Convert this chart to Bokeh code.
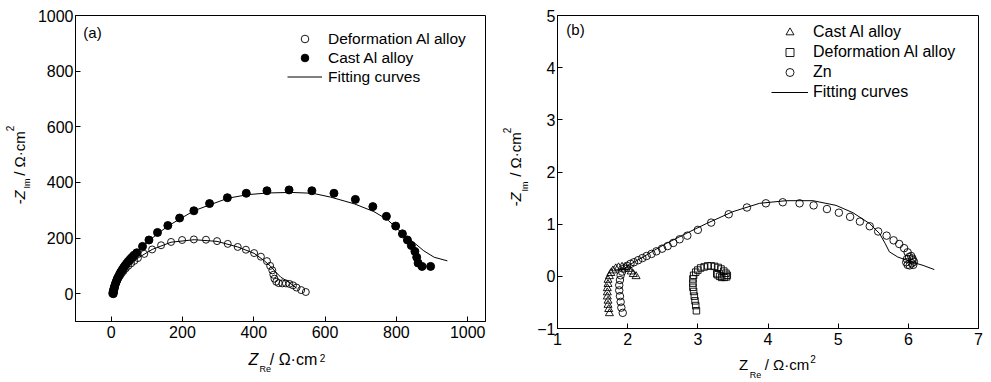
import numpy as np
from bokeh.plotting import figure
from bokeh.models import Range1d, Label, Legend, LegendItem, FixedTicker
from bokeh.layouts import row, column
from bokeh.embed import file_html
from bokeh.resources import INLINE

# ---------------- Panel (a) data ----------------
cast_a_x = [6, 6, 7, 8, 9, 10, 12, 14, 16, 18, 21, 24, 27, 31, 35, 39, 43, 48, 53, 58, 64,
            72, 88, 106, 130, 159, 192, 232, 276, 326, 379, 437, 499, 563, 625, 685, 734,
            772, 798, 817, 831, 842, 852, 857, 861, 872, 896]
cast_a_y = [0, 5, 10, 16, 22, 28, 35, 42, 49, 56, 63, 71, 78, 86, 94, 101, 108, 116, 123, 130, 138,
            147, 170, 193, 220, 245, 272, 298, 324, 345, 361, 370, 373, 370, 361, 339, 313,
            278, 243, 215, 193, 173, 152, 131, 110, 98, 98]

def_a_x = [3, 4, 5, 7, 9, 11, 14, 17, 21, 25, 30, 35, 41, 48, 56, 65,
           75, 93, 115, 140, 168, 199, 232, 266, 297, 327, 355, 378, 401, 420, 437,
           446, 452, 455, 458, 463, 470, 480, 490, 500, 510, 520, 533, 546]
def_a_y = [0, 6, 12, 19, 26, 33, 41, 49, 57, 65, 74, 82, 91, 100, 109, 118,
           128, 143, 159, 174, 186, 193, 195, 194, 189, 179, 168, 158, 146, 133, 117,
           100, 84, 68, 54, 43, 38, 37, 37, 35, 30, 22, 13, 6]

fit_cast_a_x = [5, 8, 15, 30, 50, 72, 105, 159, 232, 327, 383, 439, 504, 565, 616, 682, 737,
                775, 812, 850, 877, 906, 943]
fit_cast_a_y = [0, 20, 45, 80, 115, 146, 190, 243, 298, 343, 356, 362, 364, 361, 347, 323, 295,
                266, 222, 183, 154, 131, 118]

fit_def_a_x = [3, 10, 25, 45, 75, 115, 168, 233, 297, 355, 401, 428, 446, 460, 476, 499, 520]
fit_def_a_y = [0, 25, 62, 95, 128, 159, 185, 194, 188, 168, 145, 120, 100, 80, 59, 41, 20]

xticks_a = [0, 200, 400, 600, 800, 1000]
yticks_a = [0, 200, 400, 600, 800, 1000]

# ---------------- Panel (b) data ----------------
cast_b_x = [1.74, 1.73, 1.72, 1.72, 1.71, 1.71, 1.71, 1.72, 1.72, 1.74, 1.76, 1.79, 1.83, 1.87,
            1.92, 1.97, 2.01, 2.05, 2.08, 2.12]
cast_b_y = [-0.71, -0.63, -0.55, -0.47, -0.39, -0.31, -0.23, -0.15, -0.07, 0.00, 0.06, 0.11, 0.15,
            0.17, 0.18, 0.17, 0.14, 0.09, 0.04, 0.00]

def_b_x = [2.98, 2.97, 2.96, 2.95, 2.94, 2.93, 2.93, 2.93, 2.94, 2.97, 3.00, 3.04, 3.09, 3.14,
           3.19, 3.24, 3.29, 3.33, 3.37, 3.40, 3.42, 3.41, 3.38, 3.34, 3.31, 3.28, 3.27]
def_b_y = [-0.66, -0.56, -0.47, -0.38, -0.29, -0.21, -0.13, -0.05, 0.02, 0.08, 0.12, 0.16, 0.18,
           0.20, 0.20, 0.19, 0.17, 0.14, 0.10, 0.06, 0.02, -0.01, -0.02, -0.02, 0.00, 0.03, 0.05]

zn_b_x = [1.93, 1.91, 1.90, 1.89, 1.88, 1.88, 1.89, 1.90, 1.92, 1.95, 1.99, 2.04, 2.09, 2.15,
          2.21, 2.27, 2.34, 2.41, 2.49, 2.57, 2.65, 2.74, 2.85, 3.00, 3.19, 3.44, 3.70, 3.97,
          4.21, 4.45, 4.65, 4.84, 5.01, 5.17, 5.31, 5.45, 5.57, 5.69, 5.79, 5.87, 5.94, 5.99,
          6.04, 6.06, 6.05, 6.02, 5.99, 5.97, 5.98, 6.01, 6.06, 6.08, 6.07]
zn_b_y = [-0.70, -0.60, -0.49, -0.38, -0.27, -0.17, -0.07, 0.02, 0.09, 0.15, 0.20, 0.24, 0.27,
          0.31, 0.35, 0.39, 0.43, 0.48, 0.53, 0.58, 0.64, 0.71, 0.78, 0.89, 1.03, 1.19, 1.32,
          1.40, 1.42, 1.40, 1.36, 1.29, 1.22, 1.14, 1.05, 0.96, 0.86, 0.78, 0.69, 0.62, 0.54,
          0.46, 0.39, 0.31, 0.25, 0.21, 0.22, 0.27, 0.33, 0.37, 0.34, 0.28, 0.22]

fit_zn_b_x = [1.90, 1.98, 2.10, 2.22, 2.38, 2.55, 2.83, 3.12, 3.50, 3.88, 4.26, 4.64, 4.97,
              5.21, 5.45, 5.59, 5.67, 5.73, 5.85, 6.06, 6.21, 6.37]
fit_zn_b_y = [0.10, 0.18, 0.28, 0.37, 0.50, 0.63, 0.82, 1.01, 1.24, 1.40, 1.45, 1.45, 1.36,
              1.22, 1.01, 0.82, 0.63, 0.47, 0.37, 0.27, 0.21, 0.13]

xticks_b = [1, 2, 3, 4, 5, 6, 7]
yticks_b = [-1, 0, 1, 2, 3, 4, 5]

FONT = "Liberation Sans"
TOP_H = 350          # height of the row holding the two plots
BOT_H = 382 - TOP_H  # height of the row holding the x-axis titles
ROT_FIX = 29         # rendering offset observed for rotated labels


def style_axes(p, xticks, yticks, xstand, ystand):
    p.xgrid.grid_line_color = None
    p.ygrid.grid_line_color = None
    p.outline_line_color = "black"
    p.outline_line_width = 1
    p.xaxis.ticker = FixedTicker(ticks=xticks)
    p.yaxis.ticker = FixedTicker(ticks=yticks)
    for ax in p.xaxis + p.yaxis:
        ax.major_tick_in = 5
        ax.major_tick_out = 0
        ax.minor_tick_line_color = None
        ax.axis_line_color = "black"
        ax.major_tick_line_color = "black"
        ax.major_label_text_font = FONT
        ax.major_label_text_font_size = "16px"
        ax.major_label_text_color = "black"
    p.xaxis.major_label_standoff = xstand
    p.yaxis.major_label_standoff = ystand


def text_fig(w, h):
    f = figure(width=w, height=h, x_range=Range1d(0, 1), y_range=Range1d(0, 1),
               output_backend="svg", toolbar_location=None,
               x_axis_location=None, y_axis_location=None,
               min_border_left=0, min_border_right=0, min_border_top=0, min_border_bottom=0,
               background_fill_color="white", border_fill_color="white")
    f.xgrid.grid_line_color = None
    f.ygrid.grid_line_color = None
    f.outline_line_color = None
    return f


def add_label(p, fl, fb, cx, cy, text, size, italic=False, angle=0.0):
    # (cx, cy): page position of the text centre; fl, fb: left / bottom of the owning frame
    if angle:
        cy = cy + ROT_FIX
    p.add_layout(Label(x=cx - fl, y=fb - cy, x_units="screen", y_units="screen",
                       text=text, text_font=FONT, text_font_size=size,
                       text_font_style="italic" if italic else "normal",
                       text_align="center", text_baseline="middle",
                       angle=angle, text_color="black"))


# ---------------- Figure (a) ----------------
pa = figure(frame_width=410, frame_height=306, x_range=Range1d(-100, 1050),
            y_range=Range1d(-100, 1000), output_backend="svg", toolbar_location=None,
            min_border_left=40, min_border_right=16, min_border_top=15,
            min_border_bottom=TOP_H - 15 - 306,
            background_fill_color="white", border_fill_color="white")
style_axes(pa, xticks_a, yticks_a, 4, 2)

r_fit_a1 = pa.line(fit_cast_a_x, fit_cast_a_y, line_color="black", line_width=1)
pa.line(fit_def_a_x, fit_def_a_y, line_color="black", line_width=1)
r_def_a = pa.scatter(def_a_x, def_a_y, marker="circle", size=7, fill_color=None,
                     line_color="black", line_width=0.9)
r_cast_a = pa.scatter(cast_a_x, cast_a_y, marker="circle", size=8, fill_color="black",
                      line_color="black")

leg_a = Legend(items=[LegendItem(label="Deformation Al alloy", renderers=[r_def_a]),
                      LegendItem(label="Cast Al alloy", renderers=[r_cast_a]),
                      LegendItem(label="Fitting curves", renderers=[r_fit_a1])],
               location=(212, 235), glyph_width=35, glyph_height=19, label_height=19,
               spacing=0, padding=0, margin=0, border_line_color=None,
               background_fill_alpha=0, label_standoff=6, label_text_font=FONT,
               label_text_font_size="15.5px", label_text_color="black")
pa.add_layout(leg_a)
add_label(pa, 74, 321, 91, 32, "(a)", "15px")

# ---------------- Figure (b) ----------------
pb = figure(frame_width=421, frame_height=313, x_range=Range1d(1, 7),
            y_range=Range1d(-1, 5), output_backend="svg", toolbar_location=None,
            min_border_left=24, min_border_right=12, min_border_top=12,
            min_border_bottom=TOP_H - 12 - 313,
            background_fill_color="white", border_fill_color="white")
style_axes(pb, xticks_b, yticks_b, 4, 2)

r_fit_b = pb.line(fit_zn_b_x, fit_zn_b_y, line_color="black", line_width=1)
r_cast_b = pb.scatter(cast_b_x, cast_b_y, marker="triangle", size=8, fill_color=None,
                      line_color="black", line_width=0.9)
r_def_b = pb.scatter(def_b_x, def_b_y, marker="square", size=6.5, fill_color=None,
                     line_color="black", line_width=0.9)
r_zn_b = pb.scatter(zn_b_x, zn_b_y, marker="circle", size=7.5, fill_color=None,
                    line_color="black", line_width=0.9)

leg_b = Legend(items=[LegendItem(label="Cast Al alloy", renderers=[r_cast_b]),
                      LegendItem(label="Deformation Al alloy", renderers=[r_def_b]),
                      LegendItem(label="Zn", renderers=[r_zn_b]),
                      LegendItem(label="Fitting curves", renderers=[r_fit_b])],
               location=(214, 226), glyph_width=37, glyph_height=20, label_height=20,
               spacing=0, padding=0, margin=0, border_line_color=None,
               background_fill_alpha=0, label_standoff=5, label_text_font=FONT,
               label_text_font_size="16px", label_text_color="black")
pb.add_layout(leg_b)
add_label(pb, 558, 325, 576, 26, "(b)", "15px")

# ---------------- axis titles (own strips so they are not clipped) ----------------
HALF = np.pi / 2
yla = text_fig(34, TOP_H)          # page x 0..34
add_label(yla, 0, TOP_H, 19, 197, "-Z", "15px", italic=True, angle=HALF)
add_label(yla, 0, TOP_H, 26.5, 183, "Im", "9px", angle=HALF)
add_label(yla, 0, TOP_H, 19, 153, "/ Ω·cm", "15px", angle=HALF)
add_label(yla, 0, TOP_H, 9, 128, "2", "10px", angle=HALF)

ylb = text_fig(32, TOP_H)          # page x 502..534
add_label(ylb, 502, TOP_H, 516, 199, "-Z", "15px", italic=True, angle=HALF)
add_label(ylb, 502, TOP_H, 525.5, 186, "Im", "9px", angle=HALF)
add_label(ylb, 502, TOP_H, 516, 154, "/ Ω·cm", "15px", angle=HALF)
add_label(ylb, 502, TOP_H, 507.5, 130, "2", "10px", angle=HALF)

xla = text_fig(502, BOT_H)         # page x 0..502, y 350..382
add_label(xla, 0, 382, 253, 358.5, "Z", "16px", italic=True)
add_label(xla, 0, 382, 264.7, 368, "Re", "9px")
add_label(xla, 0, 382, 293, 358.5, "/ Ω·cm", "16px")
add_label(xla, 0, 382, 322, 357.5, "2", "10px")

xlb = text_fig(489, BOT_H)         # page x 502..991
add_label(xlb, 502, 382, 743, 364, "Z", "15px")
add_label(xlb, 502, 382, 755, 374, "Re", "9px")
add_label(xlb, 502, 382, 786.5, 364, "/ Ω·cm", "15px")
add_label(xlb, 502, 382, 812.5, 358.5, "2", "10px")

layout = column(row(yla, pa, ylb, pb), row(xla, xlb))
open("out.html", "w").write(file_html(layout, INLINE))
